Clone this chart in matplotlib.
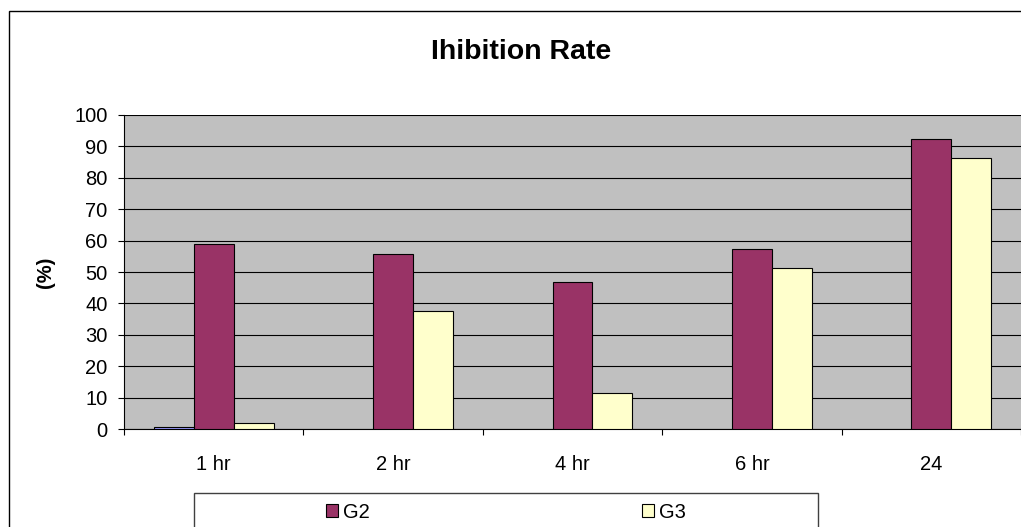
### Imports ###

import numpy as np
from matplotlib import pyplot as plt
from matplotlib.patches import Rectangle

### Data ###

categories = ['1 hr', '2 hr', '4 hr', '6 hr', '24']
g1_values = [0.7, np.nan, np.nan, np.nan, np.nan]
g2_values = [59.0, 55.6, 46.7, 57.2, 92.3]
g3_values = [2.1, 37.6, 11.4, 51.2, 86.3]
y_ticks = list(range(0, 101, 10))

### Plot ###

plt.rcParams['font.family'] = ['Liberation Sans', 'DejaVu Sans']

W, H = 1021, 527
fig = plt.figure(figsize=(W / 100, H / 100), dpi=100)
fig.patch.set_facecolor('white')

# Plot area in pixel terms, converted to figure fractions
left, right, top, bottom = 124, 1021, 114.7, 429.3
ax = fig.add_axes([left / W, 1 - bottom / H, (right - left) / W, (bottom - top) / H])
ax.set_facecolor('#C0C0C0')

x = np.arange(len(categories))
w = 1 / 4.5  # Excel gap width 50%

b1 = ax.bar(x - w, g1_values, w, color='#9999FF', edgecolor='black', linewidth=0.8, zorder=3)
b2 = ax.bar(x, g2_values, w, color='#993366', edgecolor='black', linewidth=0.8, zorder=3)
b3 = ax.bar(x + w, g3_values, w, color='#FFFFCC', edgecolor='black', linewidth=0.8, zorder=3)

ax.set_xlim(-0.5, len(categories) - 0.5)
ax.set_ylim(0, 100)
ax.set_yticks(y_ticks)
ax.yaxis.grid(True, color='black', linewidth=0.8, zorder=1)
ax.set_axisbelow(True)

# Category labels centred, tick marks on the boundaries
ax.set_xticks(x)
ax.set_xticklabels(categories)
ax.set_xticks(np.arange(-0.5, len(categories)), minor=True)
ax.tick_params(axis='x', which='major', length=0, pad=18.5, labelsize=14.5)
ax.tick_params(axis='x', which='minor', length=4, width=0.8, direction='out')
ax.tick_params(axis='y', length=4.3, width=0.8, pad=7.5, labelsize=14.5)

for side in ['top', 'right']:
    ax.spines[side].set_visible(False)
ax.spines['left'].set_color('black')
ax.spines['bottom'].set_color('black')

# Title and axis label
fig.text(521 / W, 1 - 52 / H, 'Ihibition Rate', ha='center', va='center',
         fontsize=20.5, fontweight='bold')
fig.text(45 / W, 1 - 272 / H, '(%)', ha='center', va='center', rotation=90,
         fontsize=14.5, fontweight='bold')

# Chart border (runs off the right and bottom edge)
fig.patches.append(Rectangle((9 / W, -0.1), 1.2, 1 - 11 / H + 0.1, transform=fig.transFigure,
                             fill=False, edgecolor='black', linewidth=1.0))

# Legend box and entries
fig.patches.append(Rectangle((194 / W, -0.1), (818 - 194) / W, 1 - 493 / H + 0.1,
                             transform=fig.transFigure, facecolor='white',
                             edgecolor='#404040', linewidth=1.0))
fig.legend(handles=[b2, b3], labels=['G2', 'G3'], loc='center',
           bbox_to_anchor=(506 / W, 1 - 512 / H), ncol=2, frameon=False,
           fontsize=14.5, handlelength=0.6, handleheight=0.6, handletextpad=0.25,
           columnspacing=13.5)

fig.savefig('out.png', dpi=100)
